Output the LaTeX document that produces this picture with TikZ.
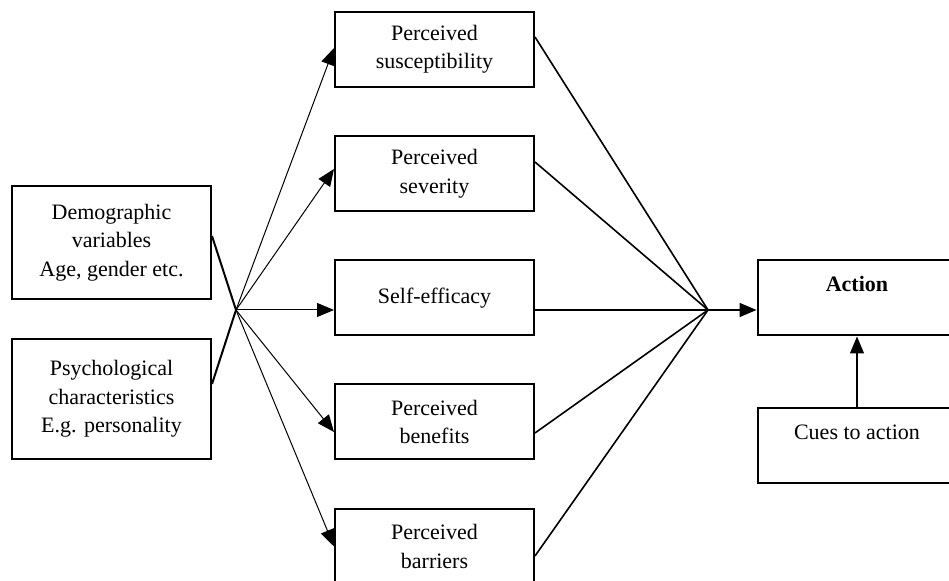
\documentclass[tikz,border=0pt]{standalone}
\usepackage{fontspec}
\setmainfont{Liberation Serif}
\usetikzlibrary{arrows.meta}

\begin{document}
\begin{tikzpicture}[x=0.5pt, y=-0.5pt,
  font=\fontsize{11}{14.25}\selectfont,
  box/.style={draw, line width=1pt, align=center, minimum width=99.5pt, inner sep=0pt},
  midbox/.style={box, minimum height=37.5pt},
  feed/.style={-{Triangle[length=8.5pt,width=7pt]}, line width=0.5pt},
  meetline/.style={line width=0.8pt}]

  \useasboundingbox (0,0) rectangle (949,581);

  % Modifying factors
  \node[box, minimum height=56.5pt] (demo) at (111.5,242.5) {Demographic\\variables\\Age, gender etc.};
  \node[box, minimum height=60pt] (psych) at (111.5,399) {Psychological\\characteristics\\E.g. personality};

  % Perceptions
  \node[midbox] (suscept) at (434.5,49.5) {Perceived\\susceptibility};
  \node[midbox] (severity) at (434.5,174) {Perceived\\severity};
  \node[midbox] (efficacy) at (434.5,298) {Self-efficacy};
  \node[midbox] (benefits) at (434.5,422) {Perceived\\benefits};
  \node[midbox] (barriers) at (434.5,546.5) {Perceived\\barriers};

  % Outcome
  \node[midbox] (action) at (857,298) {\textbf{Action}\\~};
  \node[midbox] (cues) at (857,446) {Cues to action\\~};

  % Meeting points
  \coordinate (jl) at (236,310);
  \coordinate (jr) at (708,310);

  % Into the left meeting point
  \draw[line width=1pt] ([yshift=3.25pt]demo.east) -- (jl);
  \draw[line width=1pt] ([yshift=7.5pt]psych.east) -- (jl);

  % Out to each perception
  \draw[feed] (jl) -- ([yshift=0.75pt]suscept.west);
  \draw[feed] (jl) -- ([yshift=2.5pt]severity.west);
  \draw[feed] (jl) -- (jl -| efficacy.west);
  \draw[feed] (jl) -- ([yshift=-5pt]benefits.west);
  \draw[feed] (jl) -- (barriers.west);

  % Perceptions to the right meeting point
  \draw[meetline] ([yshift=6.25pt]suscept.east) -- (jr);
  \draw[meetline] ([yshift=6pt]severity.east) -- (jr);
  \draw[meetline] (jr -| efficacy.east) -- (jr);
  \draw[meetline] ([yshift=-5.5pt]benefits.east) -- (jr);
  \draw[meetline] ([yshift=-4.75pt]barriers.east) -- (jr);

  % To action
  \draw[feed, line width=0.8pt] (jr) -- (jr -| action.west);
  \draw[feed, line width=0.6pt] (cues.north) -- (action.south);

\end{tikzpicture}
\end{document}
